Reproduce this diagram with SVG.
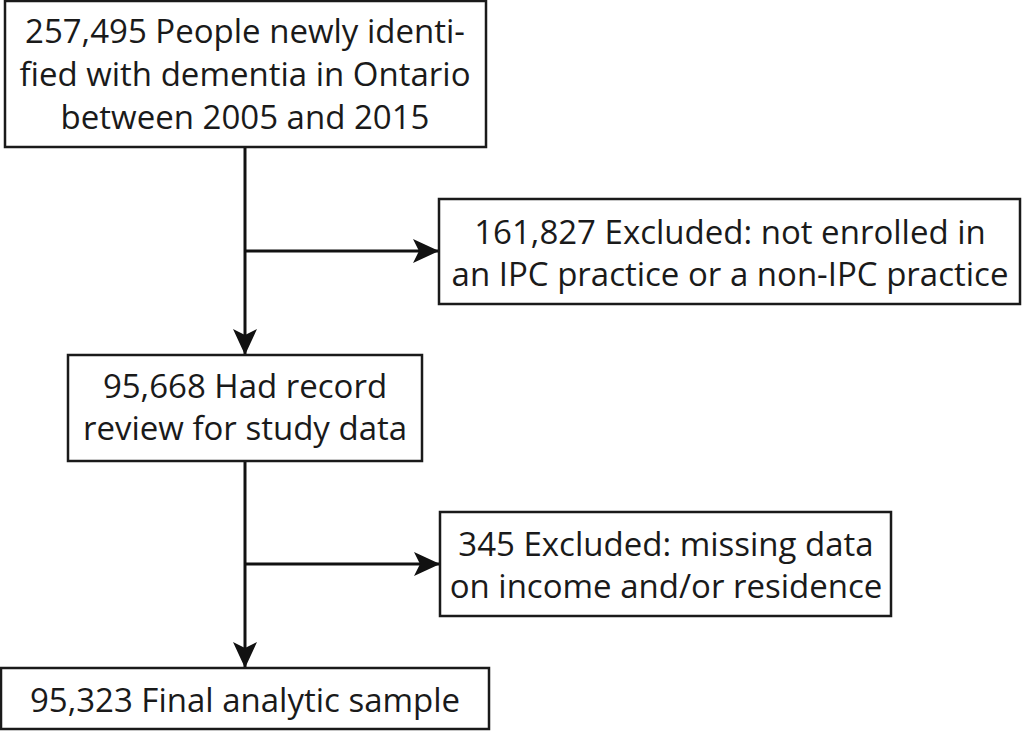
<svg xmlns="http://www.w3.org/2000/svg" width="1024" height="731" viewBox="0 0 1024 731">
<style>
.box{fill:#fff;stroke:#1a1a1a;stroke-width:2.5}
.t{font-family:"Open Sans","Noto Sans",sans-serif;font-size:33px;fill:#1a1a1a;text-anchor:middle}
.c{stroke:#111;stroke-width:3;fill:none}
</style>
<defs>
<marker id="ah" markerUnits="userSpaceOnUse" markerWidth="26" markerHeight="24" refX="26" refY="12" orient="auto">
<path d="M0,0 L26,12 L0,24 L6,12 Z" fill="#111"/>
</marker>
</defs>
<rect width="1024" height="731" fill="#fff"/>
<g id="connectors">
<line class="c" x1="245" y1="147" x2="245" y2="355" marker-end="url(#ah)"/>
<line class="c" x1="245" y1="251" x2="439" y2="251" marker-end="url(#ah)"/>
<line class="c" x1="245" y1="461" x2="245" y2="668" marker-end="url(#ah)"/>
<line class="c" x1="245" y1="564" x2="440" y2="564" marker-end="url(#ah)"/>
</g>
<g id="n1">
<rect class="box" x="5" y="1" width="481" height="146"/>
<text class="t" x="245" y="43">257,495 People newly identi-</text>
<text class="t" x="245" y="86">fied with dementia in Ontario</text>
<text class="t" x="245" y="129">between 2005 and 2015</text>
</g>
<g id="n2">
<rect class="box" x="439" y="199" width="581" height="105"/>
<text class="t" x="730" y="244">161,827 Excluded: not enrolled in</text>
<text class="t" x="730" y="286">an IPC practice or a non-IPC practice</text>
</g>
<g id="n3">
<rect class="box" x="68" y="355" width="354" height="106"/>
<text class="t" x="245" y="398">95,668 Had record</text>
<text class="t" x="245" y="440">review for study data</text>
</g>
<g id="n4">
<rect class="box" x="440" y="512" width="451" height="104"/>
<text class="t" x="666" y="556">345 Excluded: missing data</text>
<text class="t" x="666" y="598">on income and/or residence</text>
</g>
<g id="n5">
<rect class="box" x="1" y="668" width="488" height="61"/>
<text class="t" x="245" y="712">95,323 Final analytic sample</text>
</g>
</svg>
